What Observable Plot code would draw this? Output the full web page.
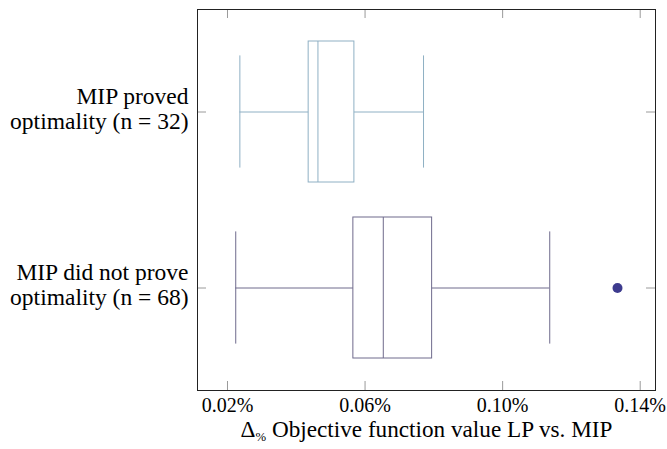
<!DOCTYPE html>
<html><head><meta charset="utf-8">
<script src="https://cdn.jsdelivr.net/npm/d3@7"></script>
<script src="https://cdn.jsdelivr.net/npm/@observablehq/plot@0.6"></script>
<style>body{margin:0;background:#fff} #chart svg, #chart svg text{font-family:"Liberation Serif",serif !important;overflow:visible}</style>
</head><body><div id="chart"></div>
<script>
const categories = ["MIP proved\noptimality (n = 32)", "MIP did not prove\noptimality (n = 68)"];
const whiskerLow = [0.0236, 0.0224];
const q1 = [0.0436, 0.0566];
const median = [0.0463, 0.0653];
const q3 = [0.0569, 0.0795];
const whiskerHigh = [0.0770, 0.1137];
const outlierCategory = ["MIP did not prove\noptimality (n = 68)"];
const outlierValue = [0.1334];
const xTicks = [0.02, 0.06, 0.10, 0.14];
const xLabel = "Δ% Objective function value LP vs. MIP";

const boxColors = ["#8fb0c4", "#6f6a8c"];
const W = 667, H = 449, mL = 197, mR = 12, mT = 9, mB = 59;
const innerW = W - mL - mR, innerH = H - mT - mB;
const tickLen = 9;

const rows = categories.map((c, i) => ({cat: c, lo: whiskerLow[i], q1: q1[i], med: median[i], q3: q3[i], hi: whiskerHigh[i]}));
const outliers = outlierCategory.map((c, i) => ({cat: c, v: outlierValue[i]}));

const tickStyle = {stroke: "#9a9a9a", strokeOpacity: 1, strokeWidth: 1};

const svg = Plot.plot({
  width: W, height: H,
  marginLeft: mL, marginRight: mR, marginTop: mT, marginBottom: mB,
  style: {fontFamily: '"Liberation Serif", serif', color: "#000", background: "#fff"},
  x: {domain: [0.01128, 0.14445]},
  y: {domain: categories, paddingInner: 0.2, paddingOuter: 0.18},
  color: {domain: categories, range: boxColors},
  marks: [
    Plot.gridX(xTicks, {...tickStyle, insetTop: innerH - tickLen}),
    Plot.gridX(xTicks, {...tickStyle, insetBottom: innerH - tickLen}),
    Plot.gridY(categories, {...tickStyle, insetLeft: innerW - tickLen}),
    Plot.gridY(categories, {...tickStyle, insetRight: innerW - tickLen}),
    Plot.axisX(xTicks, {tickSize: 0, tickPadding: 7.5, tickFormat: d => d.toFixed(2) + "%", fontSize: 20, label: null}),
    Plot.axisY({tickSize: 0, tickPadding: 9, fontSize: 23.5, lineHeight: 1.064, dy: -3.5, label: null}),
    Plot.ruleY(rows, {y: "cat", x1: "lo", x2: "q1", stroke: "cat"}),
    Plot.ruleY(rows, {y: "cat", x1: "q3", x2: "hi", stroke: "cat"}),
    Plot.barX(rows, {y: "cat", x1: "q1", x2: "q3", fill: "none", stroke: "cat"}),
    Plot.tickX(rows, {x: "med", y: "cat", stroke: "cat"}),
    Plot.tickX(rows, {x: "lo", y: "cat", stroke: "cat", insetTop: 14.4, insetBottom: 14.4}),
    Plot.tickX(rows, {x: "hi", y: "cat", stroke: "cat", insetTop: 14.4, insetBottom: 14.4}),
    Plot.dot(outliers, {x: "v", y: "cat", r: 5, fill: "#3d3b8e", stroke: "none"}),
    Plot.text([xLabel], {text: d => d, frameAnchor: "bottom", dy: 46.5, fontSize: 23.2, fill: "#000"}),
    Plot.frame({stroke: "#222", strokeWidth: 1})
  ]
});

d3.select(svg).selectAll("text").attr("font-family", "Liberation Serif");
d3.select(svg).selectAll("text").filter(function() { return this.textContent === xLabel; }).each(function() {
  const t = d3.select(this);
  t.text(null);
  t.append("tspan").text("Δ");
  t.append("tspan").attr("font-size", "0.55em").attr("dy", "0.3em").text("%");
  t.append("tspan").attr("dy", "-0.165em").text(" Objective function value LP vs. MIP");
});

document.getElementById("chart").appendChild(svg);
</script>
</body></html>
